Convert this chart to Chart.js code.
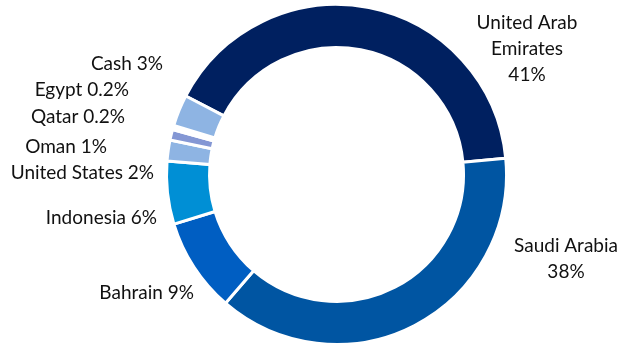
<!DOCTYPE html>
<html>
<head>
<meta charset="utf-8">
<script src="https://cdn.jsdelivr.net/npm/chart.js@4/dist/chart.umd.min.js"></script>
<style>
  html, body { margin: 0; padding: 0; background: #ffffff; }
  #wrap { width: 622px; height: 347px; position: relative; }
</style>
</head>
<body>
<div id="wrap"><canvas id="c" width="622" height="347"></canvas></div>
<script>
// ---- data ----
const categories = ["United Arab Emirates", "Saudi Arabia", "Bahrain", "Indonesia", "United States", "Oman", "Qatar", "Egypt", "Cash"];
const shares = [41, 38, 9, 6, 2, 1, 0.2, 0.2, 3];
const labelLines = [
  ["United Arab", "Emirates", "41%"],
  ["Saudi Arabia", "38%"],
  ["Bahrain 9%"],
  ["Indonesia 6%"],
  ["United States 2%"],
  ["Oman 1%"],
  ["Qatar 0.2%"],
  ["Egypt 0.2%"],
  ["Cash 3%"]
];

// ---- styles ----
const colors = ["#002060", "#0055A2", "#005EC2", "#008FD5", "#8EB4E3", "#8497D4", "#B4C7E7", "#B4C7E7", "#8EB4E3"];
// label anchor: [x, y of first line, align]
const labelPlace = [
  [527, 23, "center"],
  [566, 246, "center"],
  [194, 293, "right"],
  [157, 218, "right"],
  [154, 173, "right"],
  [107, 147, "right"],
  [125, 117, "right"],
  [129, 90, "right"],
  [163, 64, "right"]
];
const FONT = '19px "Lato", "Open Sans", sans-serif';
const LINE_H = 26;

const labelPlugin = {
  id: "sliceLabels",
  afterDraw(chart) {
    const ctx = chart.ctx;
    ctx.save();
    ctx.font = FONT;
    ctx.fillStyle = "#111111";
    ctx.textBaseline = "middle";
    labelLines.forEach((lines, i) => {
      const [x, y, align] = labelPlace[i];
      ctx.textAlign = align;
      lines.forEach((t, j) => ctx.fillText(t, x, y + j * LINE_H));
    });
    ctx.restore();
  }
};

new Chart(document.getElementById("c"), {
  type: "doughnut",
  data: {
    labels: categories,
    datasets: [{
      data: shares,
      backgroundColor: colors,
      borderColor: "#ffffff",
      borderWidth: 3,
      hoverOffset: 0
    }]
  },
  options: {
    responsive: false,
    animation: false,
    rotation: -62.5,
    cutout: "74.7%",
    layout: { padding: { left: 165, right: 114, top: 3, bottom: 1 } },
    plugins: {
      legend: { display: false },
      tooltip: { enabled: false }
    }
  },
  plugins: [labelPlugin]
});
</script>
</body>
</html>
